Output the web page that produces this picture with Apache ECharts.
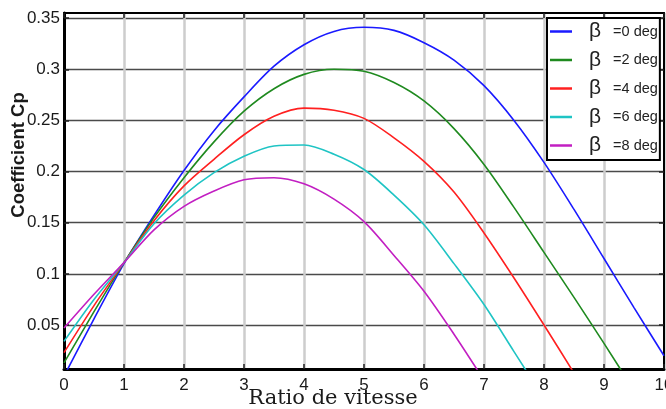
<!DOCTYPE html>
<html>
<head>
<meta charset="utf-8">
<script src="https://cdn.jsdelivr.net/npm/echarts@6/dist/echarts.min.js"></script>
<style>html,body{margin:0;padding:0;background:#fff}#c{width:666px;height:409px}</style>
</head>
<body>
<div id="c"></div>
<script>
// Tip speed ratio (x axis)
var lambda = [0,0.5,1,1.5,2,2.5,3,3.5,4,4.5,5,5.5,6,6.5,7,7.5,8,8.5,9,9.5,10];
// Power coefficient per pitch angle
var cpBeta0 = [0.000,0.056,0.110,0.157,0.201,0.240,0.273,0.303,0.324,0.337,0.341,0.338,0.326,0.309,0.284,0.250,0.209,0.163,0.115,0.067,0.020];
var cpBeta2 = [0.013,0.063,0.111,0.155,0.194,0.229,0.259,0.281,0.295,0.300,0.298,0.287,0.269,0.242,0.207,0.165,0.121,0.077,0.032,-0.014];
var cpBeta4 = [0.023,0.069,0.111,0.152,0.186,0.212,0.236,0.254,0.262,0.260,0.252,0.233,0.210,0.180,0.140,0.096,0.050,0.003,-0.045];
var cpBeta6 = [0.034,0.075,0.111,0.149,0.177,0.199,0.215,0.225,0.226,0.217,0.202,0.177,0.148,0.110,0.070,0.024,-0.022];
var cpBeta8 = [0.047,0.080,0.111,0.143,0.166,0.181,0.192,0.194,0.188,0.173,0.151,0.118,0.083,0.041,-0.004];
var seriesNames = ['β =0 deg','β =2 deg','β =4 deg','β =6 deg','β =8 deg'];
var seriesColors = ['#1a1aff','#1f8a1f','#ff2020','#1fc4c4','#c21fc2'];
var yTicks = [0.05,0.1,0.15,0.2,0.25,0.3,0.35];
var yMin = 0.007, yMax = 0.355;

var allCp = [cpBeta0, cpBeta2, cpBeta4, cpBeta6, cpBeta8];
var chart = echarts.init(document.getElementById('c'));
var labelFont = "'Liberation Sans',sans-serif";
var series = allCp.map(function(arr, k){
  return {
    name: seriesNames[k], type: 'line', smooth: 0.3, symbol: 'none', clip: true,
    lineStyle: {color: seriesColors[k], width: 1.6}, itemStyle: {color: seriesColors[k]},
    data: arr.map(function(v, i){ return [lambda[i], v]; }),
    z: 5
  };
});
var option = {
  animation: false,
  backgroundColor: '#fff',
  grid: {left: 64, right: 2, top: 13, bottom: 40, containLabel: false, outerBoundsMode: 'none'},
  xAxis: [{
    type: 'value', min: 0, max: 10, interval: 1, position: 'bottom',
    axisLine: {show: true, onZero: false, lineStyle: {color: '#000', width: 3}},
    axisTick: {show: true, inside: true, length: 5, lineStyle: {color: '#222', width: 1.5}},
    axisLabel: {margin: 8, color: '#1a1a1a', fontSize: 17, fontFamily: labelFont, hideOverlap: false, formatter: function(v){return String(v);}},
    splitLine: {show: true, lineStyle: {color: '#cdcdcd', width: 2.5}}
  },{
    type: 'value', min: 0, max: 10, interval: 1, position: 'top',
    axisLine: {show: true, onZero: false, lineStyle: {color: '#000', width: 2}},
    axisTick: {show: true, inside: true, length: 5, lineStyle: {color: '#222', width: 1.5}},
    axisLabel: {show: false}, splitLine: {show: false}
  }],
  yAxis: [{
    type: 'value', min: yMin, max: yMax, position: 'left',
    axisLine: {show: true, onZero: false, lineStyle: {color: '#000', width: 3}},
    axisTick: {show: true, inside: true, length: 5, customValues: yTicks, lineStyle: {color: '#222', width: 1.5}},
    axisLabel: {customValues: yTicks, margin: 4, color: '#1a1a1a', fontSize: 17, fontFamily: labelFont, showMinLabel: true, showMaxLabel: true, formatter: function(v){return String(+v.toFixed(2));}},
    splitLine: {show: true, lineStyle: {color: '#4a4a4a', width: 1.3}}
  },{
    type: 'value', min: yMin, max: yMax, position: 'right',
    axisLine: {show: true, onZero: false, lineStyle: {color: '#000', width: 2}},
    axisTick: {show: true, inside: true, length: 5, customValues: yTicks, lineStyle: {color: '#222', width: 1.5}},
    axisLabel: {show: false}, splitLine: {show: false}
  }],
  legend: {
    orient: 'vertical', left: 547, top: 18,
    backgroundColor: '#fff', borderColor: '#000', borderWidth: 2,
    padding: [3, 2, 4, 3], itemGap: 7.5, itemWidth: 22, itemHeight: 2.5, icon: 'rect',
    data: seriesNames,
    formatter: function(name){ return '{b|β}{t|' + name.slice(1) + '}'; },
    textStyle: {
      rich: {
        b: {fontSize: 21, fontFamily: "'Liberation Sans',sans-serif", color: '#222', padding: [0, 8, 0, 12], lineHeight: 20},
        t: {fontSize: 14.5, fontFamily: labelFont, color: '#222', lineHeight: 20}
      }
    },
    z: 10
  },
  graphic: [{
    type: 'text', x: 19, y: 155, rotation: Math.PI/2,
    style: {text: 'Coefficient Cp', fontSize: 18.5, fontWeight: 'bold', fontFamily: "'Liberation Sans',sans-serif", fill: '#1a1a1a', textAlign: 'center', textVerticalAlign: 'middle', align: 'center', verticalAlign: 'middle'}
  },{
    type: 'text', x: 333, y: 399,
    style: {text: 'Ratio de vitesse', fontSize: 21, fontFamily: "'DejaVu Serif',serif", fill: '#1a1a1a', textAlign: 'center', textVerticalAlign: 'middle', align: 'center', verticalAlign: 'middle'}
  }],
  series: series
};
chart.setOption(option);
</script>
</body>
</html>
